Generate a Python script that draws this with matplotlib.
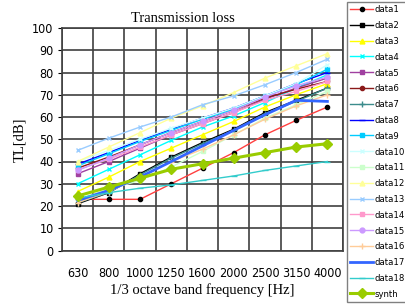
import matplotlib
matplotlib.use("Agg")
import matplotlib.pyplot as plt
from matplotlib import font_manager
import numpy as np

freqs = ["630", "800", "1000", "1250", "1600", "2000", "2500", "3150", "4000"]

data1 = [23, 23, 23, 30, 37, 44, 52, 58.5, 64.5]
data2 = [21, 26, 34.5, 42, 48.5, 54.5, 62, 67.5, 73]
data3 = [26.5, 33, 40, 46, 52, 58, 64.5, 70, 75]
data4 = [30, 36.5, 43, 49.5, 55.5, 60.5, 66.5, 73, 79]
data5 = [34.5, 40, 46, 52, 57, 62, 68, 73, 77.5]
data6 = [37, 42, 47.5, 53, 58, 63, 68.5, 72.5, 76]
data7 = [21.5, 26, 34, 41.5, 48, 54, 61.5, 67, 73]
data8 = [38.8, 44, 49.5, 54.5, 59.5, 64, 69.5, 75, 80]
data9 = [38, 43.5, 49, 54, 59, 63.5, 69.5, 74.5, 81.5]
data10 = [40, 45, 50, 55, 59.5, 64, 69.5, 75, 83.5]
data11 = [23, 27.5, 31.5, 37.5, 44.5, 52, 59.5, 65.5, 71.5]
data12 = [40, 46.5, 53, 59.5, 65, 71, 77.5, 83, 88.5]
data13 = [45, 50.5, 55.5, 60, 65.5, 69.5, 74.5, 80, 86]
data14 = [36.3, 41, 46.5, 52, 57, 62, 67.5, 71.5, 76]
data15 = [36, 41.5, 47.5, 53, 58, 63, 69, 74, 78]
data16 = [21.5, 26.5, 33, 40, 45.5, 52, 59, 65, 70]
data17 = [22.5, 27, 33, 40, 47, 54, 61, 67.5, 67]
data18 = [23.5, 26, 28, 29.5, 31.5, 33.5, 36, 38, 40]
synth = [24.5, 28.5, 32.5, 36.5, 39, 41.5, 44, 46.5, 48]

series = [
    ("data1", data1, dict(color="#ff4040", marker="o", mfc="black", mec="black", ms=3, lw=1)),
    ("data2", data2, dict(color="black", marker="s", mfc="black", mec="black", ms=3, lw=1)),
    ("data3", data3, dict(color="#ffff00", marker="^", ms=3.5, lw=1)),
    ("data4", data4, dict(color="#00ffff", marker="x", ms=3.5, lw=1)),
    ("data5", data5, dict(color="#a040a0", marker="s", ms=3.5, lw=1)),
    ("data6", data6, dict(color="#8b1a1a", marker="o", ms=3, lw=1)),
    ("data7", data7, dict(color="#3c8c8c", marker="+", ms=4, lw=1)),
    ("data8", data8, dict(color="#0000ff", marker="_", ms=4, lw=1)),
    ("data9", data9, dict(color="#00ccff", marker="s", ms=2.5, lw=1)),
    ("data10", data10, dict(color="#ccffff", marker="x", ms=3.5, lw=1)),
    ("data11", data11, dict(color="#ccffcc", marker="s", ms=3.5, lw=1)),
    ("data12", data12, dict(color="#ffff99", marker="^", ms=3.5, lw=1)),
    ("data13", data13, dict(color="#99ccff", marker="x", ms=3.5, lw=1)),
    ("data14", data14, dict(color="#ff99cc", marker="s", ms=3.5, lw=1)),
    ("data15", data15, dict(color="#cc99ff", marker="o", ms=3.5, lw=1)),
    ("data16", data16, dict(color="#ffcc99", marker="+", ms=4, lw=1)),
    ("data17", data17, dict(color="#3366ff", lw=2)),
    ("data18", data18, dict(color="#33cccc", marker="_", ms=4, lw=1)),
    ("synth", synth, dict(color="#99cc00", marker="D", ms=5.5, lw=2.2)),
]

names = {f.name for f in font_manager.fontManager.ttflist}
narrow = "Liberation Sans Narrow" if "Liberation Sans Narrow" in names else "DejaVu Sans"
narrow_stretch = "normal" if narrow != "DejaVu Sans" else "condensed"

fig = plt.figure(figsize=(4.05, 3.06), dpi=100)
ax = fig.add_axes([62/405, 1-250.5/306, (343-62)/405, (250.5-28)/306])

x = np.arange(len(freqs))
handles = []
for name, vals, st in series:
    h, = ax.plot(x, vals, label=name, **st)
    handles.append(h)

ax.set_xlim(-0.5, len(freqs) - 0.5)
ax.set_ylim(0, 100)
ax.set_yticks(np.arange(0, 101, 10))
ax.set_xticks(x)
ax.set_xticklabels(freqs)
ax.set_xticks(np.arange(-0.5, len(freqs), 1), minor=True)
ax.grid(True, which="minor", axis="x", color="#404040", lw=1.2)
ax.grid(True, which="major", axis="y", color="#404040", lw=1.2)
ax.set_axisbelow(True)
ax.tick_params(axis="x", which="both", length=0, pad=12, labelsize=9)
ax.tick_params(axis="y", length=3, labelsize=9, pad=3)
for lab in ax.get_xticklabels() + ax.get_yticklabels():
    lab.set_family(narrow)
    lab.set_stretch(narrow_stretch)
for s in ax.spines.values():
    s.set_color("#404040")
    s.set_linewidth(1.2)

ax.set_title("Transmission loss", family="Liberation Serif", fontsize=10.5, pad=4, x=0.43)
ax.set_xlabel("1/3 octave band frequency [Hz]", family="Liberation Serif", fontsize=10.5, labelpad=2)
ax.set_ylabel("TL[dB]", family="Liberation Serif", fontsize=10.5, labelpad=4)

leg = fig.legend(handles=handles, loc="upper left", bbox_to_anchor=(347/405, 1-2/306),
                 prop=dict(family=narrow, stretch=narrow_stretch, size=6.8),
                 frameon=True, fancybox=False, edgecolor="#606060",
                 labelspacing=0.72, handlelength=2.4, handletextpad=0.2,
                 borderpad=0.35, borderaxespad=0)
leg.get_frame().set_linewidth(1.0)

fig.savefig("out.png", dpi=100)
